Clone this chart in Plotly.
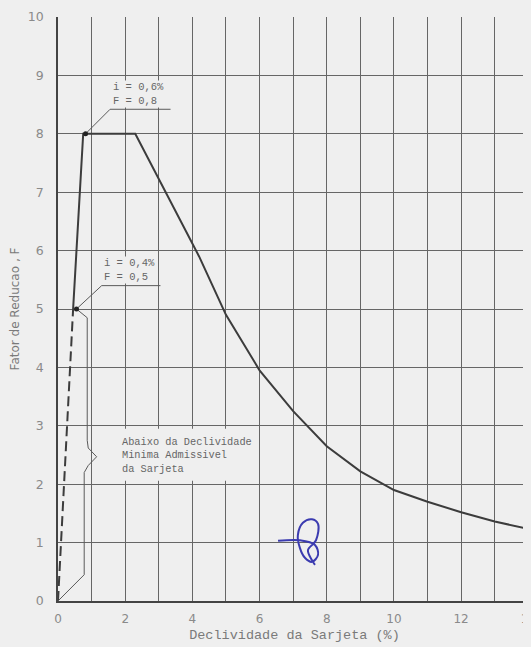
import plotly.graph_objects as go

# ---- data ----
curve_x = [0.45, 0.75, 2.3, 3.2, 4.2, 5.0, 6.0, 7.0, 8.0, 9.0, 10.0, 11.0, 12.0, 13.0, 14.05]
curve_y = [5.0, 8.0, 8.0, 7.0, 5.9, 4.9, 3.95, 3.25, 2.65, 2.22, 1.9, 1.7, 1.52, 1.36, 1.23]

dash_x = [0.0, 0.45]
dash_y = [0.0, 5.0]

dots_x = [0.55, 0.82]
dots_y = [5.0, 8.0]

brace_x = [0.55, 0.87, 0.87, 0.9, 1.15, 0.9, 0.78, 0.78, 0.0]
brace_y = [5.0, 4.85, 2.75, 2.62, 2.47, 2.32, 2.2, 0.45, 0.0]

lead_hi_x = [0.82, 1.55, 3.35]
lead_hi_y = [8.0, 8.42, 8.42]
lead_lo_x = [0.55, 1.3, 3.05]
lead_lo_y = [5.0, 5.4, 5.4]

scribble_x = [6.55, 7.2, 7.65, 7.74, 7.56, 7.35, 7.2, 7.14, 7.29, 7.56, 7.74, 7.68, 7.44, 7.56, 7.65]
scribble_y = [1.03, 1.04, 0.96, 0.79, 0.67, 0.74, 0.91, 1.13, 1.34, 1.40, 1.32, 1.04, 0.87, 0.70, 0.62]

box_x = [1.15, 5.95]
box_y = [2.06, 2.95]

x_ticks = [0, 2, 4, 6, 8, 10, 12, 14]
y_ticks = [0, 1, 2, 3, 4, 5, 6, 7, 8, 9, 10]

BG = "#efefef"
INK = "#3c3c3c"
GRID = "#666666"
TXT = "#7a7a7a"
MONO = "Liberation Mono"

fig = go.Figure()

fig.add_shape(type="rect", xref="x", yref="y", x0=box_x[0], x1=box_x[1],
              y0=box_y[0], y1=box_y[1], fillcolor=BG, line=dict(width=0), layer="between")

fig.add_trace(go.Scatter(x=curve_x, y=curve_y, mode="lines",
                         line=dict(color=INK, width=2), hoverinfo="skip"))
fig.add_trace(go.Scatter(x=dash_x, y=dash_y, mode="lines",
                         line=dict(color=INK, width=2, dash="10px,5px"), hoverinfo="skip"))
fig.add_trace(go.Scatter(x=brace_x, y=brace_y, mode="lines",
                         line=dict(color="#5a5a5a", width=1), hoverinfo="skip"))
fig.add_trace(go.Scatter(x=lead_hi_x, y=lead_hi_y, mode="lines",
                         line=dict(color="#5a5a5a", width=1), hoverinfo="skip"))
fig.add_trace(go.Scatter(x=lead_lo_x, y=lead_lo_y, mode="lines",
                         line=dict(color="#5a5a5a", width=1), hoverinfo="skip"))
fig.add_trace(go.Scatter(x=dots_x, y=dots_y, mode="markers",
                         marker=dict(color="#222222", size=5), hoverinfo="skip"))
fig.add_trace(go.Scatter(x=scribble_x, y=scribble_y, mode="lines",
                         line=dict(color="#3b3bb0", width=2, shape="spline"), hoverinfo="skip"))

fig.add_annotation(x=1.6, y=8.45, xref="x", yref="y", xanchor="left", yanchor="bottom",
                   text="i = 0,6%<br>F = 0,8", showarrow=False, align="left",
                   font=dict(family=MONO, size=10.5, color="#666"), bgcolor=BG, borderpad=0)
fig.add_annotation(x=1.35, y=5.43, xref="x", yref="y", xanchor="left", yanchor="bottom",
                   text="i = 0,4%<br>F = 0,5", showarrow=False, align="left",
                   font=dict(family=MONO, size=10.5, color="#666"), bgcolor=BG, borderpad=0)
fig.add_annotation(x=1.85, y=2.5, xref="x", yref="y", xanchor="left", yanchor="middle",
                   text="Abaixo da Declividade<br>Minima Admissivel<br>da Sarjeta",
                   showarrow=False, align="left",
                   font=dict(family=MONO, size=10.3, color="#666"))

fig.update_layout(
    width=523, height=639,
    margin=dict(l=50, r=0, t=9, b=46),
    paper_bgcolor=BG, plot_bgcolor=BG,
    showlegend=False,
    font=dict(family=MONO, color=TXT),
    xaxis=dict(range=[0, 14.08], tickvals=x_ticks, automargin=False,
               showgrid=True, gridcolor=GRID, gridwidth=1.3,
               minor=dict(dtick=1, showgrid=True, gridcolor=GRID, gridwidth=1.3),
               showline=True, linecolor="#444", linewidth=1.5,
               zeroline=False, ticks="", ticklabelstandoff=6, ticklabeloverflow="allow",
               tickfont=dict(family="DejaVu Sans", size=12, color="#8a8a8a"),
               title=dict(text="Declividade da Sarjeta (%)", standoff=4,
                          font=dict(family=MONO, size=13.5, color=TXT))),
    yaxis=dict(range=[0, 10], tickvals=y_ticks, automargin=False,
               showgrid=True, gridcolor=GRID, gridwidth=1.3,
               showline=True, linecolor="#444", linewidth=1.5,
               zeroline=False, ticks="", ticklabelstandoff=10,
               tickfont=dict(family="DejaVu Sans", size=12.5, color="#8a8a8a"),
               title=dict(text="Fator de Reducao , F", standoff=6,
                          font=dict(family="DejaVu Sans", size=12, color=TXT))),
)

fig.write_html("out.html", post_script="document.body.style.background='#efefef';")
